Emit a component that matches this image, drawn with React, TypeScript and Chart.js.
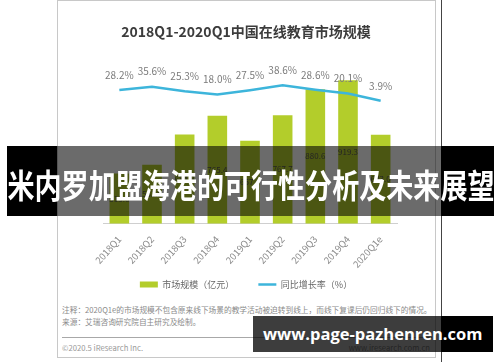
import React, { useEffect, useRef } from 'react';
import { Chart, registerables } from 'chart.js';

Chart.register(...registerables);

const FONT = '"Noto Sans CJK SC", "Noto Sans", sans-serif';

const categories = ['2018Q1', '2018Q2', '2018Q3', '2018Q4', '2019Q1', '2019Q2', '2019Q3', '2019Q4', '2020Q1e'];
const marketSize = [515.6, 553.9, 684.8, 765.4, 657.4, 767.7, 880.6, 919.3, 683.0];
const growthRate = [28.2, 35.6, 25.3, 18.0, 27.5, 38.6, 28.6, 20.1, 3.9];
const barLabel = '市场规模（亿元）';
const lineLabel = '同比增长率（%）';
const titleText = '2018Q1-2020Q1中国在线教育市场规模';
const noteText = '注释：2020Q1e的市场规模不包含原来线下场景的教学活动被迫转到线上，而线下复课后仍回归线下的情况。';
const sourceText = '来源：艾瑞咨询研究院自主研究及绘制。';
const copyrightText = '©2020.5 iResearch Inc.';
const siteText = 'www.iresearch.com.cn';
const bannerText = '米内罗加盟海港的可行性分析及未来展望';
const watermarkText = 'www.page-pazhenren.com';

const BAR_COLOR = '#b3cd2b';
const LINE_COLOR = '#3db5db';

const valueLabels = {
  id: 'valueLabels',
  afterLayout(chart: any) {
    // let the rotated tick labels draw past the shortened axis box (no clipping)
    const x = chart.scales.x;
    x.bottom += 30;
  },
  afterDatasetsDraw(chart: any) {
    const ctx = chart.ctx;
    const bottom = chart.chartArea.bottom;
    ctx.save();
    ctx.textAlign = 'center';
    ctx.textBaseline = 'middle';
    const barMeta = chart.getDatasetMeta(0);
    ctx.font = `8px ${FONT}`;
    ctx.fillStyle = '#555555';
    barMeta.data.forEach((bar: any, i: number) => {
      const p = bar.getProps(['x', 'y', 'base'], true);
      const base = Math.min(p.base, bottom);
      ctx.fillText(marketSize[i].toFixed(1), p.x, (p.y + base) / 2);
    });
    const lineMeta = chart.getDatasetMeta(1);
    ctx.font = `10px ${FONT}`;
    ctx.fillStyle = '#7b7b7b';
    lineMeta.data.forEach((pt: any, i: number) => {
      const p = pt.getProps(['x', 'y'], true);
      ctx.fillText(growthRate[i].toFixed(1) + '%', p.x, p.y - 15);
    });
    ctx.restore();
  },
};

export default function App() {
  const ref = useRef<HTMLCanvasElement>(null);

  useEffect(() => {
    document.body.style.margin = '0';
    Chart.defaults.font.family = FONT;
    const chart = new Chart(ref.current as HTMLCanvasElement, {
      type: 'bar',
      data: {
        labels: categories,
        datasets: [
          {
            type: 'bar',
            label: barLabel,
            data: marketSize,
            backgroundColor: BAR_COLOR,
            borderWidth: 0,
            yAxisID: 'y',
            order: 1,
            categoryPercentage: 1,
            barPercentage: 0.6,
          } as any,
          {
            type: 'line',
            label: lineLabel,
            data: growthRate,
            borderColor: LINE_COLOR,
            backgroundColor: LINE_COLOR,
            borderWidth: 2.5,
            pointRadius: 0,
            tension: 0,
            yAxisID: 'y1',
            order: 0,
          } as any,
        ],
      },
      options: {
        responsive: true,
        maintainAspectRatio: false,
        animation: false,
        layout: { padding: { left: 37, right: 37, top: 0, bottom: 0 } },
        scales: {
          x: {
            grid: { display: false, drawTicks: false },
            border: { display: true, color: '#cfcfcf', width: 1 },
            ticks: {
              color: '#8a8a8a',
              font: { size: 9.5 },
              minRotation: 48,
              maxRotation: 48,
              padding: 10,
              autoSkip: false,
            },
            afterFit: (s: any) => {
              s.height = 32.5;
            },
          },
          y: {
            display: true,
            position: 'left',
            min: 300,
            max: 1000,
            grid: { display: false, drawTicks: false },
            border: { display: false },
            ticks: { display: false },
            afterFit: (s: any) => {
              s.width = 8;
            },
          },
          y1: { display: false, min: -271.7, max: 92.2 },
        },
        plugins: {
          title: {
            display: true,
            text: titleText,
            color: '#3c3c3c',
            font: { size: 14, weight: 'bold' },
            padding: { top: 22.6, bottom: 21.1 },
          },
          legend: {
            position: 'bottom',
            labels: {
              color: '#666666',
              font: { size: 9 },
              usePointStyle: true,
              pointStyleWidth: 18,
              boxHeight: 6,
              padding: 24,
              generateLabels: (c: any) => {
                const items = (Chart.defaults.plugins.legend.labels as any).generateLabels(c);
                items.forEach((it: any) => {
                  if (it.datasetIndex === 0) {
                    it.pointStyle = 'rect';
                    it.lineWidth = 0;
                  } else {
                    it.pointStyle = 'line';
                    it.lineWidth = 2.5;
                  }
                });
                return items;
              },
              sort: (a: any, b: any) => a.datasetIndex - b.datasetIndex,
            },
          },
          tooltip: { enabled: false },
        },
      },
      plugins: [valueLabels],
    } as any);
    return () => chart.destroy();
  }, []);

  const textBase: React.CSSProperties = {
    position: 'absolute',
    whiteSpace: 'nowrap',
    fontFamily: FONT,
    color: '#8a8a8a',
    lineHeight: '10px',
  };

  return (
    <div style={{ position: 'relative', width: 500, height: 362, background: '#fff', overflow: 'hidden', fontFamily: FONT }}>
      <div style={{ position: 'absolute', left: 57, top: 0, width: 379, height: 358, boxSizing: 'border-box', border: '1px solid #c8c8c8' }} />
      <div style={{ position: 'absolute', left: 58, top: 1, width: 376, height: 298 }}>
        <canvas ref={ref} />
      </div>
      <div style={{ ...textBase, left: 62, top: 304.5, fontSize: 7.7 }}>{noteText}</div>
      <div style={{ ...textBase, left: 62, top: 317, fontSize: 7.7 }}>{sourceText}</div>
      <div style={{ position: 'absolute', left: 62, top: 337, width: 370, height: 1, background: '#a8a8a8' }} />
      <div style={{ ...textBase, left: 62, top: 343, fontSize: 7.7, color: '#999' }}>{copyrightText}</div>
      <div style={{ ...textBase, right: 70, top: 343, fontSize: 7.7, color: '#999' }}>{siteText}</div>
      <div style={{ position: 'absolute', left: 441, top: 0, width: 1, height: 362, background: '#444' }} />

      <div style={{ position: 'absolute', left: 7, top: 146, width: 50, height: 70, background: '#000' }} />
      <div style={{ position: 'absolute', left: 57, top: 146, width: 384, height: 70, background: 'rgba(0,0,0,0.58)' }} />
      <div style={{ position: 'absolute', left: 441, top: 146, width: 53, height: 70, background: '#000' }} />
      <div
        style={{
          position: 'absolute',
          left: 250.5,
          top: 164,
          height: 40,
          lineHeight: '40px',
          color: '#fff',
          fontWeight: 700,
          fontSize: 33,
          whiteSpace: 'nowrap',
          transform: 'translateX(-50%) scaleX(0.82)',
          transformOrigin: 'center',
        }}
      >
        {bannerText}
      </div>

      <div style={{ position: 'absolute', left: 253, top: 316, width: 188, height: 36, background: 'rgba(0,0,0,0.76)' }} />
      <div style={{ position: 'absolute', left: 441, top: 316, width: 52, height: 36, background: '#000' }} />
      <div
        style={{
          position: 'absolute',
          left: 263,
          top: 316,
          height: 36,
          lineHeight: '36px',
          color: '#fff',
          fontWeight: 700,
          fontSize: 16.5,
          fontFamily: '"Open Sans", sans-serif',
          whiteSpace: 'nowrap',
        }}
      >
        {watermarkText}
      </div>
    </div>
  );
}
